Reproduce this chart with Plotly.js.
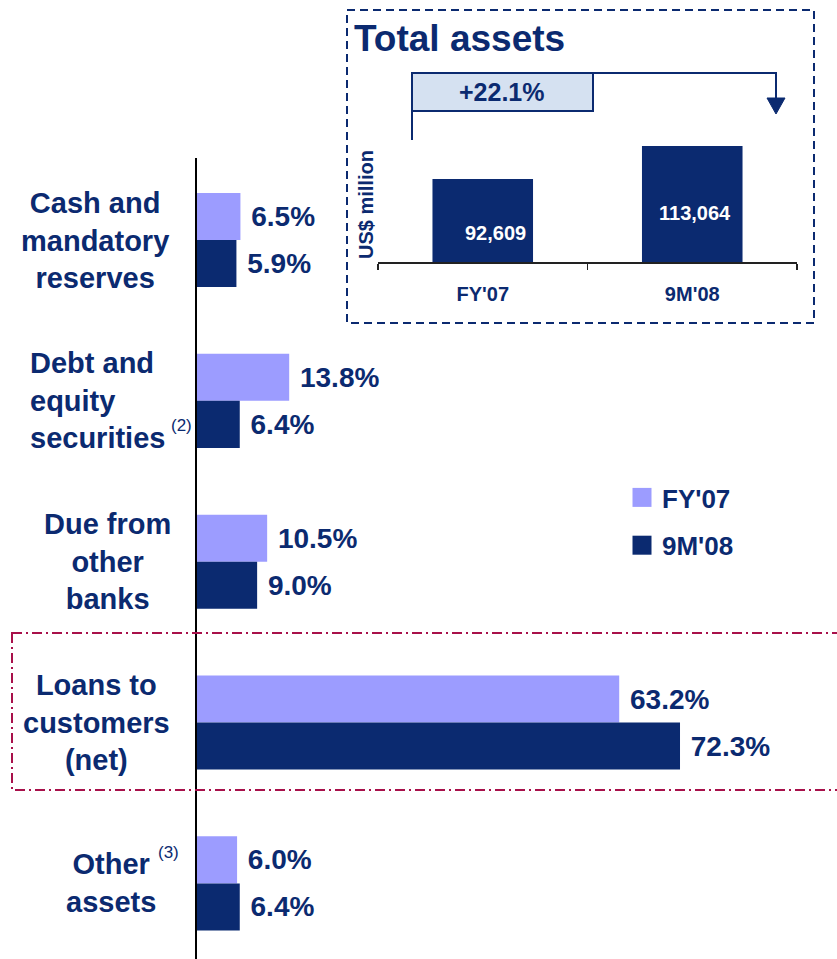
<!DOCTYPE html>
<html>
<head>
<meta charset="utf-8">
<script src="https://cdn.plot.ly/plotly-3.0.1.min.js"></script>
<style>html,body{margin:0;padding:0;background:#fff;}#chart{width:837px;height:959px;}</style>
</head>
<body>
<div id="chart"></div>
<script>
// ---- data ----
const categories = ["Cash and mandatory reserves", "Debt and equity securities", "Due from other banks", "Loans to customers (net)", "Other assets"];
const categoryLabels = ["Cash and<br>mandatory<br>reserves", "Debt and<br>equity<br>securities", "Due from<br>other<br>banks", "Loans to<br>customers<br>(net)", "Other<br>assets"];
const seriesNames = ["FY'07", "9M'08"];
const fy07 = [6.5, 13.8, 10.5, 63.2, 6.0];
const m908 = [5.9, 6.4, 9.0, 72.3, 6.4];
const totalPeriods = ["FY'07", "9M'08"];
const totalAssets = [92609, 113064];
const growthLabel = "+22.1%";
const insetTitle = "Total assets";
const insetUnit = "US$ million";
const footnotes = ["(2)", "(3)"];

// ---- layout helpers ----
const W = 837, H = 959;
const px = x => x / W;
const py = y => 1 - y / H;
const NAVY = "#0b2a70";
const LIGHT = "#9c9cff";
const FONT = "Liberation Sans, Arial, sans-serif";

const traces = [
  {type: "bar", orientation: "h", name: seriesNames[0], y: categories, x: fy07,
   marker: {color: LIGHT}, texttemplate: "\u00a0%{x:.1f}%", textposition: "outside",
   textfont: {size: 28, color: NAVY, family: FONT, weight: "bold"}, constraintext: "none",
   cliponaxis: false, xaxis: "x", yaxis: "y", legendgroup: "a", hoverinfo: "skip"},
  {type: "bar", orientation: "h", name: seriesNames[1], y: categories, x: m908,
   marker: {color: NAVY}, texttemplate: "\u00a0%{x:.1f}%", textposition: "outside",
   textfont: {size: 28, color: NAVY, family: FONT, weight: "bold"}, constraintext: "none",
   cliponaxis: false, xaxis: "x", yaxis: "y", legendgroup: "b", hoverinfo: "skip"},
  {type: "bar", x: totalPeriods, y: totalAssets, width: 0.48, marker: {color: NAVY},
   xaxis: "x2", yaxis: "y2", showlegend: false, hoverinfo: "skip"}
];

const labelPos = [
  {x: 95, align: "center", xanchor: "center"},
  {x: 28, align: "left", xanchor: "left"},
  {x: 107, align: "center", xanchor: "center"},
  {x: 96, align: "center", xanchor: "center"},
  {x: 111, align: "center", xanchor: "center"}
];

const annotations = categories.map((c, i) => ({
  xref: "paper", yref: "y", x: px(labelPos[i].x), y: c, xanchor: labelPos[i].xanchor, yanchor: "middle",
  align: labelPos[i].align, text: categoryLabels[i], showarrow: false,
  font: {size: 29, color: NAVY, family: FONT, weight: "bold"}
}));

// inset value labels
const valueShift = [{dx: 13, dy: -54}, {dx: 3, dy: -67}];
totalPeriods.forEach((p, i) => annotations.push({
  xref: "x2", yref: "y2", x: p, y: totalAssets[i], xanchor: "center", yanchor: "middle",
  xshift: valueShift[i].dx, yshift: valueShift[i].dy, showarrow: false,
  text: totalAssets[i].toLocaleString("en-US"),
  font: {size: 20, color: "#ffffff", family: FONT, weight: "bold"}
}));

annotations.push(
  {xref: "paper", yref: "paper", x: px(181), y: py(425), xanchor: "center", yanchor: "middle",
   text: footnotes[0], showarrow: false, font: {size: 17, color: NAVY, family: FONT}},
  {xref: "paper", yref: "paper", x: px(168), y: py(852), xanchor: "center", yanchor: "middle",
   text: footnotes[1], showarrow: false, font: {size: 17, color: NAVY, family: FONT}},
  {xref: "paper", yref: "paper", x: px(502), y: py(92), xanchor: "center", yanchor: "middle",
   text: growthLabel, showarrow: false, font: {size: 25, color: NAVY, family: FONT, weight: "bold"}},
  {xref: "paper", yref: "paper", x: px(366), y: py(205), xanchor: "center", yanchor: "middle",
   text: insetUnit, showarrow: false, textangle: -90,
   font: {size: 20, color: NAVY, family: FONT, weight: "bold"}}
);

const shapes = [
  // inset dashed frame
  {type: "rect", xref: "paper", yref: "paper", x0: px(347), x1: px(814), y0: py(10), y1: py(323),
   line: {color: NAVY, width: 2, dash: "8px,5px"}},
  // highlight dash-dot frame
  {type: "rect", xref: "paper", yref: "paper", x0: px(12), x1: px(840), y0: py(633), y1: py(790),
   line: {color: "#a8104a", width: 2, dash: "10px,4px,2px,4px"}},
  // growth bracket
  {type: "path", xref: "paper", yref: "paper",
   path: `M${px(412)},${py(140)} L${px(412)},${py(73)} L${px(776)},${py(73)} L${px(776)},${py(100)}`,
   line: {color: NAVY, width: 2}},
  {type: "path", xref: "paper", yref: "paper",
   path: `M${px(767)},${py(98)} L${px(785)},${py(98)} L${px(776)},${py(114)} Z`,
   fillcolor: NAVY, line: {color: NAVY, width: 1}},
  {type: "rect", xref: "paper", yref: "paper", x0: px(412), x1: px(593), y0: py(111), y1: py(73),
   fillcolor: "#d5e1f1", line: {color: NAVY, width: 2}}
];

const layout = {
  width: W, height: H,
  margin: {l: 0, r: 0, t: 0, b: 0, pad: 0},
  paper_bgcolor: "#ffffff", plot_bgcolor: "rgba(0,0,0,0)",
  font: {family: FONT, color: NAVY},
  title: {text: insetTitle, x: px(354), xanchor: "left", y: py(38), yanchor: "middle",
          xref: "paper", yref: "paper",
          font: {size: 37, color: NAVY, family: FONT, weight: "bold"}},
  barmode: "group", bargap: 0.415, bargroupgap: 0,
  showlegend: true,
  legend: {x: px(622), y: py(474), xanchor: "left", yanchor: "top", bgcolor: "rgba(0,0,0,0)",
           font: {size: 26, color: NAVY, family: FONT, weight: "bold"}, tracegroupgap: 11, traceorder: "grouped"},
  xaxis: {domain: [px(197), 1], range: [0, 95.8], visible: false, fixedrange: true},
  yaxis: {domain: [0, py(158)], range: [4.47, -0.51], type: "category", showline: true, linecolor: "#000000",
          linewidth: 2, showticklabels: false, ticks: "", showgrid: false, zeroline: false, fixedrange: true},
  xaxis2: {domain: [px(378), px(797)], anchor: "y2", type: "category", showline: true, linecolor: "#222222",
           linewidth: 1.5, ticks: "outside", tickson: "boundaries", ticklen: 6, tickwidth: 1.5, tickcolor: "#222222",
           tickfont: {size: 20, color: NAVY, family: FONT, weight: "bold"}, ticklabelstandoff: 13,
           showgrid: false, zeroline: false, fixedrange: true},
  yaxis2: {domain: [py(262), py(130)], anchor: "x2", range: [41150, 123000], visible: false, fixedrange: true},
  annotations: annotations,
  shapes: shapes
};

Plotly.newPlot("chart", traces, layout, {displayModeBar: false, staticPlot: true}).then(gd => {
  // enlarge legend swatches to the reference's square size
  gd.querySelectorAll(".legend .legendpoints path").forEach(p => p.setAttribute("d", "M9.5,9.5H-9.5V-9.5H9.5Z"));
});
</script>
</body>
</html>
